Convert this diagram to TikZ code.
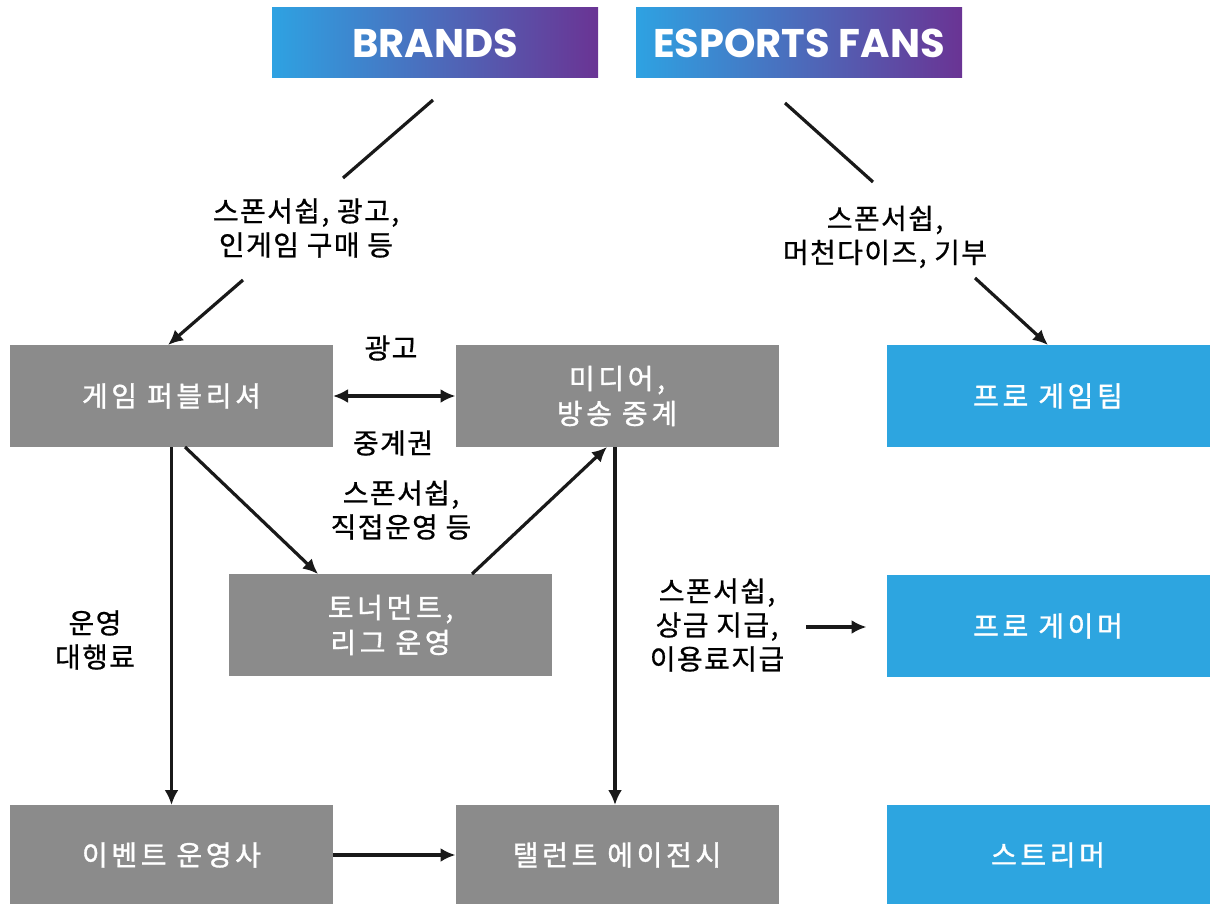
\documentclass[tikz,border=0pt]{standalone}
\usepackage{fontspec}
\newfontfamily\kr{Noto Sans CJK KR}[FakeBold=1.2,LetterSpace=13]
\newfontfamily\krl{Noto Sans CJK KR}[FakeBold=0.7,LetterSpace=5]
\newfontfamily\hd{Poppins}
\usetikzlibrary{arrows.meta,calc}
\definecolor{gbox}{HTML}{8B8B8B}
\definecolor{bbox}{HTML}{2DA5E0}
\definecolor{gl}{HTML}{2EA2E2}
\definecolor{gr}{HTML}{6A3494}
\begin{document}
\begin{tikzpicture}[x=1pt,y=-1pt,
 gbx/.style={fill=gbox,minimum width=323pt,minimum height=102pt,inner sep=0pt,outer sep=0pt,text=white,font=\kr\fontsize{28}{35}\selectfont,align=center},
 bbx/.style={gbx,fill=bbox},
 hdr/.style={minimum width=326pt,minimum height=70pt,inner sep=0pt,outer sep=0pt,left color=gl,right color=gr,text=white,font=\hd\bfseries\fontsize{40}{44}\selectfont},
 lbl/.style={font=\krl\fontsize{28}{34}\selectfont,align=center,inner sep=0pt},
 ln/.style={line width=3.2pt,draw=black!90},
 arr/.style={ln,-{Latex[length=15pt,width=14pt]}},
 darr/.style={ln,{Latex[length=15pt,width=14pt]}-{Latex[length=15pt,width=14pt]}}]
\useasboundingbox (0,0) rectangle (1210,904);
\node[hdr] (brands) at (435,43) {BRANDS};
\node[hdr] (fans) at (799,43) {ESPORTS FANS};
\node[gbx] (pub) at (171.5,396) {게임 퍼블리셔};
\node[gbx] (media) at (617,396) {미디어,\\방송 중계};
\node[bbx] (team) at (1048,396) {프로 게임팀};
\node[gbx] (tour) at (390.5,625) {토너먼트,\\리그 운영};
\node[bbx] (gamer) at (1048,626) {프로 게이머};
\node[gbx,minimum height=100pt] (event) at (171.5,855) {이벤트 운영사};
\node[gbx,minimum height=100pt] (talent) at (617,855) {탤런트 에이전시};
\node[bbx,minimum height=100pt] (streamer) at (1048,855) {스트리머};
\node[lbl] (lA) at (306,228) {스폰서쉽, 광고,\\인게임 구매 등};
\node[lbl] (lB) at (885,237) {스폰서쉽,\\머천다이즈, 기부};
\node[lbl] (lAd) at (391,348) {광고};
\node[lbl] (lBr) at (393,443) {중계권};
\node[lbl] (lC) at (401,510) {스폰서쉽,\\직접운영 등};
\node[lbl] (lD) at (95,640) {운영\\대행료};
\node[lbl] (lE) at (717,625) {스폰서쉽,\\상금 지급,\\이용료지급};
\coordinate (a1) at (433,100);
\coordinate (a2) at (343,178);
\coordinate (a3) at (243,280);
\coordinate (b1) at (785,103);
\coordinate (b2) at (873,182);
\coordinate (b3) at (975,278);
\coordinate (e1) at (806,627);
\draw[ln] (a1) -- (a2);
\draw[arr] (a3) -- ([xshift=-3.5]pub.north);
\draw[ln] (b1) -- (b2);
\draw[arr] (b3) -- (team.north);
\draw[darr] (pub.east) -- (media.west);
\draw[arr] ([xshift=13.5]pub.south) -- ([xshift=-72.5]tour.north);
\draw[arr] ([xshift=81.5]tour.north) -- ([xshift=-10]media.south);
\draw[arr] (pub.south) -- (event.north);
\draw[arr] ([xshift=-2]media.south) -- ([xshift=-2]talent.north);
\draw[arr,shorten >=20pt] (e1) -- (e1 -| gamer.west);
\draw[arr] (event.east) -- (talent.west);
\end{tikzpicture}
\end{document}
